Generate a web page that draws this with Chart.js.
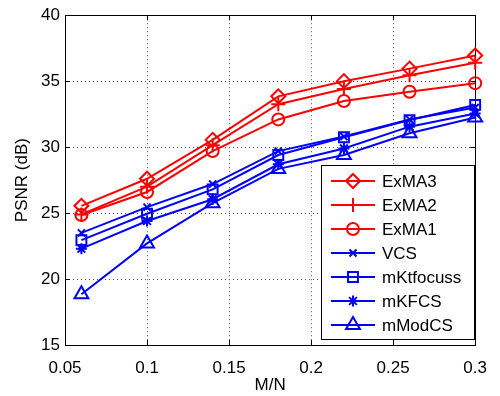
<!DOCTYPE html>
<html>
<head>
<meta charset="utf-8">
<script src="https://cdn.jsdelivr.net/npm/chart.js@4.4.0/dist/chart.umd.min.js"></script>
<style>
  html, body { margin: 0; padding: 0; background: #fff; }
</style>
</head>
<body>
<canvas id="chart" width="500" height="396"></canvas>
<script>
// M/N sampling ratios
const ratios = [0.06, 0.1, 0.14, 0.18, 0.22, 0.26, 0.3];

// PSNR (dB) per method
const exma3     = [25.55, 27.6, 30.55, 33.85, 35.0, 35.95, 36.95];
const exma2     = [24.9, 27.0, 30.15, 33.25, 34.4, 35.45, 36.4];
const exma1     = [24.85, 26.6, 29.7, 32.1, 33.5, 34.2, 34.85];
const vcs       = [23.5, 25.45, 27.2, 29.7, 30.8, 32.1, 33.0];
const mktfocuss = [22.95, 24.95, 26.8, 29.4, 30.75, 32.05, 33.2];
const mkfcs     = [22.3, 24.4, 26.05, 28.7, 29.9, 31.55, 32.55];
const mmodcs    = [18.85, 22.7, 25.75, 28.35, 29.4, 31.05, 32.25];

const xTicks = [0.05, 0.1, 0.15, 0.2, 0.25, 0.3];
const xTickLabels = ["0.05", "0.1", "0.15", "0.2", "0.25", "0.3"];
const yTicks = [15, 20, 25, 30, 35, 40];

const RED = "#ff0000";
const BLUE = "#0000ff";
const FONT = "'Liberation Sans', Arial, Helvetica, sans-serif";

function series(label, values, color, style, radius) {
  return {
    label: label,
    data: ratios.map((x, i) => ({ x: x, y: values[i] })),
    borderColor: color,
    backgroundColor: color,
    borderWidth: 2,
    pointStyle: style,
    pointRadius: radius,
    pointBorderWidth: 2,
    pointBorderColor: color,
    pointBackgroundColor: "rgba(0,0,0,0)",
    tension: 0,
    clip: false,
  };
}

const datasets = [
  series("ExMA3", exma3, RED, "rectRot", 7),
  series("ExMA2", exma2, RED, "cross", 7),
  series("ExMA1", exma1, RED, "circle", 6),
  series("VCS", vcs, BLUE, "crossRot", 5),
  series("mKtfocuss", mktfocuss, BLUE, "rect", 7),
  series("mKFCS", mkfcs, BLUE, "star", 5.5),
  series("mModCS", mmodcs, BLUE, "triangle", 8),
];

// box around the axes with inward ticks, like matlab
const framePlugin = {
  id: "frame",
  beforeDatasetsDraw(chart) {
    const { ctx, chartArea: a, scales } = chart;
    ctx.save();
    ctx.strokeStyle = "#000";
    ctx.lineWidth = 1;
    ctx.setLineDash([]);
    ctx.beginPath();
    xTicks.forEach(v => {
      const x = Math.round(scales.x.getPixelForValue(v)) + 0.5;
      ctx.moveTo(x, a.bottom); ctx.lineTo(x, a.bottom - 5);
      ctx.moveTo(x, a.top); ctx.lineTo(x, a.top + 5);
    });
    yTicks.forEach(v => {
      const y = Math.round(scales.y.getPixelForValue(v)) + 0.5;
      ctx.moveTo(a.left, y); ctx.lineTo(a.left + 5, y);
      ctx.moveTo(a.right, y); ctx.lineTo(a.right - 5, y);
    });
    ctx.stroke();
    ctx.strokeRect(Math.round(a.left) + 0.5, Math.round(a.top) + 0.5,
      Math.round(a.right - a.left), Math.round(a.bottom - a.top));
    ctx.restore();
  }
};

// legend box in the lower right corner
const legendPlugin = {
  id: "boxLegend",
  afterDatasetsDraw(chart) {
    const ctx = chart.ctx;
    const bx = 321, by = 165, bw = 153, bh = 174;
    ctx.save();
    ctx.fillStyle = "#fff";
    ctx.fillRect(bx, by, bw, bh);
    ctx.strokeStyle = "#000";
    ctx.lineWidth = 1;
    ctx.strokeRect(bx + 0.5, by + 0.5, bw, bh);
    ctx.font = "17px " + FONT;
    ctx.textBaseline = "middle";
    chart.data.datasets.forEach((ds, i) => {
      const y = 181 + i * 24;
      ctx.strokeStyle = ds.borderColor;
      ctx.lineWidth = 2;
      ctx.beginPath();
      ctx.moveTo(331, y);
      ctx.lineTo(375, y);
      ctx.stroke();
      ctx.fillStyle = "rgba(0,0,0,0)";
      Chart.helpers.drawPoint(ctx, {
        pointStyle: ds.pointStyle,
        radius: ds.pointRadius,
        rotation: 0,
        borderWidth: 2,
      }, 353, y);
      ctx.fillStyle = "#000";
      ctx.fillText(ds.label, 382, y + 1);
    });
    ctx.restore();
  }
};

new Chart(document.getElementById("chart"), {
  type: "line",
  data: { datasets: datasets },
  options: {
    responsive: false,
    animation: false,
    layout: { padding: { left: 0, right: 20, top: 10, bottom: 0 } },
    plugins: {
      legend: { display: false },
      tooltip: { enabled: false },
    },
    scales: {
      x: {
        type: "linear",
        min: 0.05,
        max: 0.3,
        afterBuildTicks: s => { s.ticks = xTicks.map(v => ({ value: v })); },
        afterFit: s => { s.height = 51; },
        ticks: {
          callback: (v, i) => xTickLabels[i],
          color: "#000",
          font: { family: FONT, size: 17 },
          padding: 13,
          maxRotation: 0,
        },
        grid: {
          color: "#555",
          lineWidth: 1,
          drawTicks: false,
        },
        border: { display: false, dash: [1, 3] },
        title: {
          display: true,
          text: "M/N",
          color: "#000",
          font: { family: FONT, size: 17 },
          padding: { top: 2, bottom: 0 },
        },
      },
      y: {
        min: 15,
        max: 40,
        afterBuildTicks: s => { s.ticks = yTicks.map(v => ({ value: v })); },
        afterFit: s => { s.width = 65; },
        ticks: {
          color: "#000",
          font: { family: FONT, size: 17 },
          padding: 5,
        },
        grid: {
          color: "#555",
          lineWidth: 1,
          drawTicks: false,
        },
        border: { display: false, dash: [1, 3] },
        title: {
          display: true,
          text: "PSNR (dB)",
          color: "#000",
          font: { family: FONT, size: 17 },
          padding: { top: 12, bottom: 0 },
        },
      },
    },
  },
  plugins: [framePlugin, legendPlugin],
});
</script>
</body>
</html>
